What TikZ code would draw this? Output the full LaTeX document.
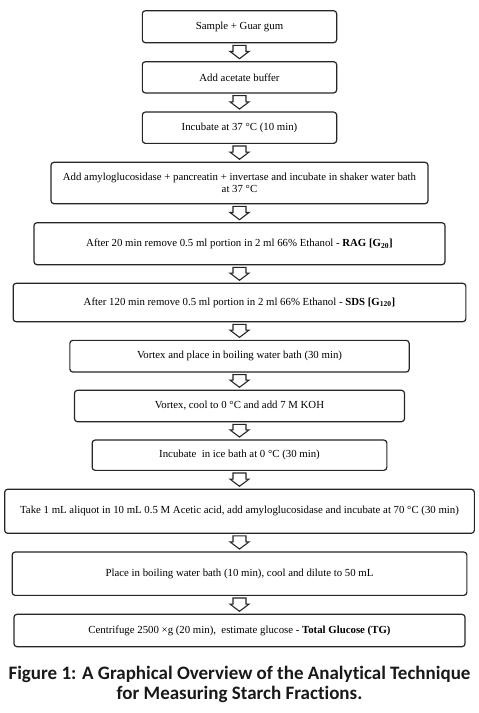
\documentclass[tikz,border=0pt]{standalone}
\usepackage{fontspec}
\setmainfont{Liberation Serif}
\newfontfamily\capfont[Ligatures=NoCommon]{Carlito}
\usetikzlibrary{calc}
\tikzset{
  stepbox/.style={draw=black!85, line width=1.2pt, rounded corners=3pt, inner sep=0pt,
    align=center, font=\fontsize{10.8}{12.3}\selectfont, text=black},
  flowarr/.style={draw=black!85, line width=1.1pt, fill=white, line join=miter}
}
\newcommand{\flowarrow}[2]{%
  \path[flowarr] let \p1=(#1.south), \p2=(#2.north) in
    (\x1-6.5pt,\y1-2pt) -- (\x1+6.5pt,\y1-2pt) -- (\x1+6.5pt,\y2+9.6pt) --
    (\x1+9.5pt,\y2+9.6pt) -- (\x1,\y2+2.4pt) -- (\x1-9.5pt,\y2+9.6pt) --
    (\x1-6.5pt,\y2+9.6pt) -- cycle;}
\begin{document}
\begin{tikzpicture}[x=1pt,y=-1pt]
\useasboundingbox (0,0) rectangle (479,713);
\node[stepbox, minimum width=194.3pt, minimum height=32pt] (b1) at (239.5,26.7) {Sample + Guar gum};
\node[stepbox, minimum width=194.3pt, minimum height=31.3pt] (b2) at (239.5,77.3) {Add acetate buffer};
\node[stepbox, minimum width=194.3pt, minimum height=31.3pt] (b3) at (239.5,127.7) {Incubate at 37 °C (10 min)};
\node[stepbox, minimum width=377pt, minimum height=41.4pt] (b4) at (239.5,183) {Add amyloglucosidase + pancreatin + invertase and incubate in shaker water bath\\at 37 °C};
\node[stepbox, minimum width=411pt, minimum height=42pt] (b5) at (239.5,243.7) {After 20 min remove 0.5 ml portion in 2 ml 66\% Ethanol - \textbf{RAG [G\textsubscript{20}]}};
\node[stepbox, minimum width=452.7pt, minimum height=38.4pt] (b6) at (239.5,302.5) {After 120 min remove 0.5 ml portion in 2 ml 66\% Ethanol - \textbf{SDS [G\textsubscript{120}]}};
\node[stepbox, minimum width=339.3pt, minimum height=31.7pt] (b7) at (239.5,356.2) {Vortex and place in boiling water bath (30 min)};
\node[stepbox, minimum width=330pt, minimum height=31.4pt] (b8) at (239.5,406) {Vortex, cool to 0 °C and add 7 M KOH};
\node[stepbox, minimum width=294.7pt, minimum height=30.3pt] (b9) at (239.5,455.2) {Incubate\ \ in ice bath at 0 °C (30 min)};
\node[stepbox, minimum width=469.7pt, minimum height=44pt] (b10) at (239.5,511.3) {Take 1 mL aliquot in 10 mL 0.5 M Acetic acid, add amyloglucosidase and incubate at 70 °C (30 min)};
\node[stepbox, minimum width=454.7pt, minimum height=43.3pt] (b11) at (239.5,573.7) {Place in boiling water bath (10 min), cool and dilute to 50 mL};
\node[stepbox, minimum width=451pt, minimum height=32.4pt] (b12) at (239.5,630.5) {Centrifuge 2500 ×g (20 min),\ \ estimate glucose - \textbf{Total Glucose (TG)}};
\flowarrow{b1}{b2}
\flowarrow{b2}{b3}
\flowarrow{b3}{b4}
\flowarrow{b4}{b5}
\flowarrow{b5}{b6}
\flowarrow{b6}{b7}
\flowarrow{b7}{b8}
\flowarrow{b8}{b9}
\flowarrow{b9}{b10}
\flowarrow{b10}{b11}
\flowarrow{b11}{b12}
\node[align=center, inner sep=0pt, anchor=base, font=\capfont\bfseries\fontsize{19}{20.2}\selectfont, text=black!90] (cap) at (239.5,699.5) {Figure 1: A Graphical Overview of the Analytical Technique\\for Measuring Starch Fractions.};
\end{tikzpicture}
\end{document}
